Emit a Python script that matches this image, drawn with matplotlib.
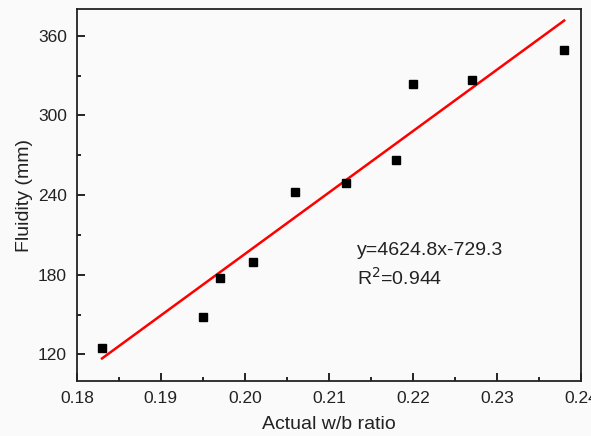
import numpy as np
import matplotlib
matplotlib.use("Agg")
import matplotlib.pyplot as plt
from matplotlib.ticker import MultipleLocator

plt.rcParams['font.family'] = ['Liberation Sans', 'DejaVu Sans']

# measured points
wb_ratio = [0.183, 0.195, 0.197, 0.201, 0.206, 0.212, 0.218, 0.220, 0.227, 0.238]
fluidity = [125, 148.5, 177.5, 189.5, 242.5, 249, 266.5, 324, 327, 349]

# linear fit shown on the chart
slope = 4624.8
intercept = -729.3
r2 = 0.944

fig = plt.figure(figsize=(5.91, 4.36), dpi=100, facecolor='#fafafa')
ax = fig.add_axes([0.130, 0.126, 0.853, 0.853])
ax.set_facecolor('#fafafa')

ax.plot(wb_ratio, fluidity, 's', color='black', ms=6, zorder=3)

xfit = np.array([min(wb_ratio), max(wb_ratio)])
ax.plot(xfit, slope * xfit + intercept, color='red', lw=1.8)

ax.set_xlim(0.18, 0.24)
ax.set_ylim(100, 380)
ax.xaxis.set_major_locator(MultipleLocator(0.01))
ax.xaxis.set_minor_locator(MultipleLocator(0.005))
ax.yaxis.set_major_locator(MultipleLocator(60))
ax.yaxis.set_minor_locator(MultipleLocator(30))
ax.xaxis.set_major_formatter(plt.FormatStrFormatter('%.2f'))

ax.tick_params(which='both', direction='in', top=False, right=False, labelsize=12.5, width=1.2,
               labelcolor='#222222')
ax.tick_params(which='major', length=6, pad=7)
ax.tick_params(which='minor', length=3)
for s in ax.spines.values():
    s.set_linewidth(1.3)
    s.set_color('#222222')

ax.set_xlabel('Actual w/b ratio', fontsize=14, labelpad=7, color='#222222')
ax.set_ylabel('Fluidity (mm)', fontsize=14, labelpad=4, color='#222222')

ax.text(0.2133, 198, 'y=%.1fx%.1f' % (slope, intercept), fontsize=14, va='center', color='#222222')
ax.text(0.2133, 178, 'R$^2$=%.3f' % r2, fontsize=14, va='center', color='#222222')

fig.savefig('out.png', dpi=100, facecolor=fig.get_facecolor())
